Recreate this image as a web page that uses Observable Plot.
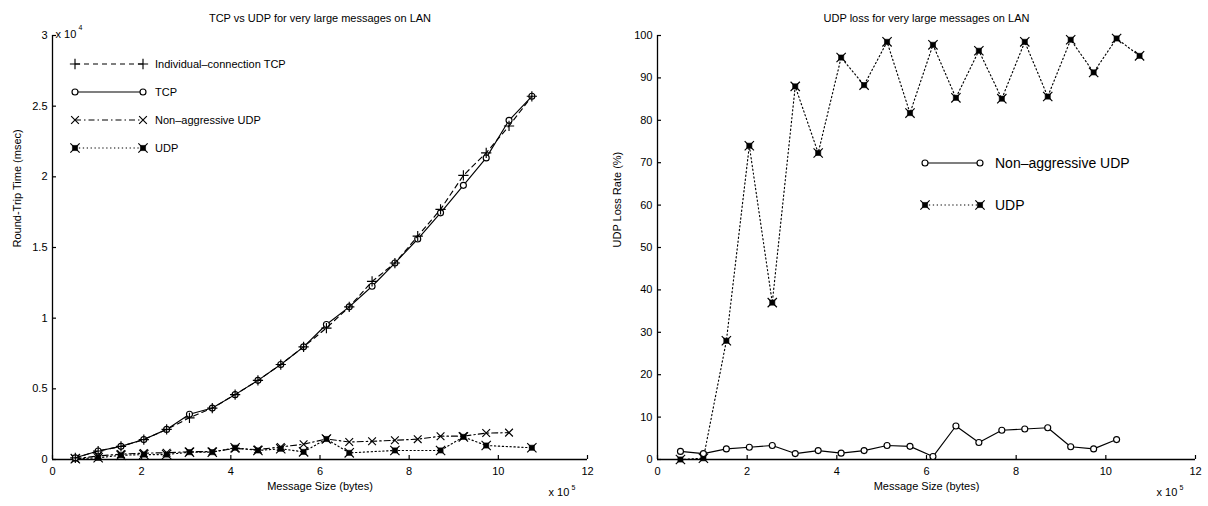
<!DOCTYPE html>
<html>
<head>
<meta charset="utf-8">
<script src="https://cdn.jsdelivr.net/npm/d3@7"></script>
<script src="https://cdn.jsdelivr.net/npm/@observablehq/plot@0.6"></script>
<style>
  body { margin: 0; background: #fff; }
  #wrap { display: flex; width: 1208px; height: 506px; background: #fff; }
</style>
</head>
<body>
<div id="wrap"></div>
<script>
// ---------- data ----------
const sizes = [51200, 102400, 153600, 204800, 256000, 307200, 358400, 409600, 460800, 512000,
               563200, 614400, 665600, 716800, 768000, 819200, 870400, 921600, 972800, 1024000, 1075200];
// Left chart: round-trip time (msec)
const indivTcpRtt = [120, 600, 930, 1410, 2130, 2950, 3640, 4590, 5600, 6720, 7970, 9300, 10800, 12600, 13900, 15800, 17700, 20100, 21700, 23600, 25700];
const tcpRtt      = [120, 600, 930, 1410, 2130, 3200, 3640, 4590, 5600, 6720, 7970, 9550, 10800, 12260, 13900, 15600, 17450, 19400, 21340, 24000, 25700];
const nonAggUdpRtt = [50, 250, 380, 450, 480, 550, 560, 780, 700, 890, 1080, 1450, 1240, 1290, 1360, 1440, 1650, 1650, 1870, 1900];
const udpRtt      = [60, 120, 300, 350, 350, 520, 520, 830, 640, 760, 540, 1450, 470, null, 640, null, 640, 1600, 990, null, 830];
// Right chart: UDP loss rate (%)
const nonAggUdpLoss = [1.9, 1.4, 2.5, 2.9, 3.3, 1.4, 2.1, 1.5, 2.1, 3.3, 3.1, 0.7, 7.9, 4.0, 6.9, 7.2, 7.5, 3.0, 2.5, 4.7];
const udpLoss       = [0, 0.3, 28, 74, 37, 88, 72.3, 94.8, 88.3, 98.5, 81.7, 97.8, 85.3, 96.4, 85.1, 98.5, 85.6, 99, 91.3, 99.3, 95.2];

// ticks & labels
const xTicks = [0, 200000, 400000, 600000, 800000, 1000000, 1200000];
const rttTicks = [0, 5000, 10000, 15000, 20000, 25000, 30000];
const lossTicks = [0, 10, 20, 30, 40, 50, 60, 70, 80, 90, 100];
const leftTitle = "TCP vs UDP for very large messages on LAN";
const rightTitle = "UDP loss for very large messages on LAN";
const xLabel = "Message Size (bytes)";
const leftYLabel = "Round-Trip Time (msec)";
const rightYLabel = "UDP Loss Rate (%)";
const leftSeries = ["Individual\u2013connection TCP", "TCP", "Non\u2013aggressive UDP", "UDP"];
const rightSeries = ["Non\u2013aggressive UDP", "UDP"];

const table = vals => vals.map((v, i) => ({x: sizes[i], y: v})).filter(d => d.y != null);

// ---------- styles ----------
const FONT = "'Liberation Sans', Arial, Helvetica, sans-serif";
const SW = 1.15;
const DASH = {solid: null, dashed: "5,4", dashdot: "6,3,1.5,3", dotted: "1.3,2.6"};

function markerMarks(kind, data) {
  if (kind === "plus") return [Plot.dot(data, {x: "x", y: "y", symbol: "plus", r: 3.4, stroke: "black", strokeWidth: SW})];
  if (kind === "circle") return [Plot.dot(data, {x: "x", y: "y", symbol: "circle", r: 3, fill: "white", stroke: "black", strokeWidth: SW})];
  if (kind === "times") return [Plot.dot(data, {x: "x", y: "y", symbol: "times", r: 3.6, stroke: "black", strokeWidth: SW})];
  // udp: filled square with x
  return [
    Plot.dot(data, {x: "x", y: "y", symbol: "square", r: 2.9, fill: "black", stroke: "black", strokeWidth: 0.6}),
    Plot.dot(data, {x: "x", y: "y", symbol: "times", r: 4.3, stroke: "black", strokeWidth: SW})
  ];
}
function seriesMarks(data, dash, kind) {
  return [
    Plot.line(data, {x: "x", y: "y", stroke: "black", strokeWidth: SW, strokeDasharray: DASH[dash]}),
    ...markerMarks(kind, data)
  ];
}

function frameText(text, opts) {
  return Plot.text([text], {text: d => d, fill: "black", ...opts});
}

function buildPlot({margins, yDomain, yTicks, yFmt, yExp, title, yLabel, yLabelDx, series}) {
  return Plot.plot({
    width: 604, height: 506,
    marginLeft: margins[0], marginRight: margins[1], marginTop: 35, marginBottom: 47,
    style: {fontFamily: FONT, fontSize: "11px", color: "black", background: "white", overflow: "visible"},
    x: {domain: [0, 1200000], label: null},
    y: {domain: yDomain, label: null},
    marks: [
      Plot.ruleY([yDomain[0]], {stroke: "black", strokeWidth: 1.3}),
      Plot.ruleX([0], {stroke: "black", strokeWidth: 1.3}),
      Plot.axisX({ticks: xTicks, tickSize: -4, tickFormat: () => "", label: null, strokeWidth: 1.2}),
      Plot.axisX({ticks: xTicks, tickSize: 0, tickPadding: 8, tickFormat: d => d / 100000, label: null, fontSize: 11}),
      Plot.axisY({ticks: yTicks, tickSize: -4, tickFormat: () => "", label: null, strokeWidth: 1.2}),
      Plot.axisY({ticks: yTicks, tickSize: 0, tickPadding: 5, tickFormat: yFmt, label: null, fontSize: 11}),
      ...series,
      frameText(title, {frameAnchor: "top", dy: -21, fontSize: 11}),
      frameText(xLabel, {frameAnchor: "bottom", dy: 30, fontSize: 11}),
      frameText(yLabel, {frameAnchor: "left", dx: yLabelDx, rotate: -90, fontSize: 11}),
      frameText("x 10", {frameAnchor: "bottom-right", textAnchor: "start", dx: -39, dy: 36, fontSize: 11}),
      frameText("5", {frameAnchor: "bottom-right", textAnchor: "start", dx: -16, dy: 30, fontSize: 7}),
      ...(yExp ? [
        frameText("x 10", {frameAnchor: "top-left", textAnchor: "start", dx: 3, dy: -5, fontSize: 11}),
        frameText(yExp, {frameAnchor: "top-left", textAnchor: "start", dx: 26, dy: -10, fontSize: 7})
      ] : [])
    ]
  });
}

const left = buildPlot({
  margins: [52, 17], yDomain: [0, 30000], yTicks: rttTicks, yFmt: d => d / 10000, yExp: "4",
  title: leftTitle, yLabel: leftYLabel, yLabelDx: -35,
  series: [
    ...seriesMarks(table(udpRtt), "dotted", "udp"),
    ...seriesMarks(table(nonAggUdpRtt), "dashdot", "times"),
    ...seriesMarks(table(tcpRtt), "solid", "circle"),
    ...seriesMarks(table(indivTcpRtt), "dashed", "plus")
  ]
});
const right = buildPlot({
  margins: [53, 13], yDomain: [0, 100], yTicks: lossTicks, yFmt: d => d, yExp: null,
  title: rightTitle, yLabel: rightYLabel, yLabelDx: -40,
  series: [
    ...seriesMarks(table(udpLoss), "dotted", "udp"),
    ...seriesMarks(table(nonAggUdpLoss), "solid", "circle")
  ]
});

// ---------- legends (drawn inside the plot frames) ----------
function drawMarker(g, kind, x, y) {
  const sym = s => d3.symbol(s.type, s.r * s.r * Math.PI)();
  const add = (type, r, fill, sw) => g.append("path")
    .attr("d", sym({type, r})).attr("transform", `translate(${x},${y})`)
    .attr("fill", fill).attr("stroke", "black").attr("stroke-width", sw);
  if (kind === "plus") add(d3.symbolPlus, 3.4, "none", SW);
  else if (kind === "circle") add(d3.symbolCircle, 3, "white", SW);
  else if (kind === "times") add(d3.symbolTimes, 3.6, "none", SW);
  else { add(d3.symbolSquare, 2.9, "black", 0.6); add(d3.symbolTimes, 4.3, "none", SW); }
}
function legend(svg, items, x1, x2, tx, ys, fontSize) {
  const g = d3.select(svg).append("g").attr("font-family", FONT).attr("font-size", fontSize);
  items.forEach((it, i) => {
    const y = ys[i];
    g.append("line").attr("x1", x1).attr("x2", x2).attr("y1", y).attr("y2", y)
      .attr("stroke", "black").attr("stroke-width", SW)
      .attr("stroke-dasharray", DASH[it.dash]);
    drawMarker(g, it.kind, x1, y);
    drawMarker(g, it.kind, x2, y);
    g.append("text").attr("x", tx).attr("y", y).attr("dy", "0.35em")
      .attr("text-anchor", "start").attr("fill", "black").text(it.label);
  });
}
legend(left, [
  {label: leftSeries[0], dash: "dashed", kind: "plus"},
  {label: leftSeries[1], dash: "solid", kind: "circle"},
  {label: leftSeries[2], dash: "dashdot", kind: "times"},
  {label: leftSeries[3], dash: "dotted", kind: "udp"}
], 75, 143, 155, [64, 92, 120, 148], 11);
legend(right, [
  {label: rightSeries[0], dash: "solid", kind: "circle"},
  {label: rightSeries[1], dash: "dotted", kind: "udp"}
], 321, 376, 391, [163, 205], 14);

document.getElementById("wrap").append(left, right);
</script>
</body>
</html>
